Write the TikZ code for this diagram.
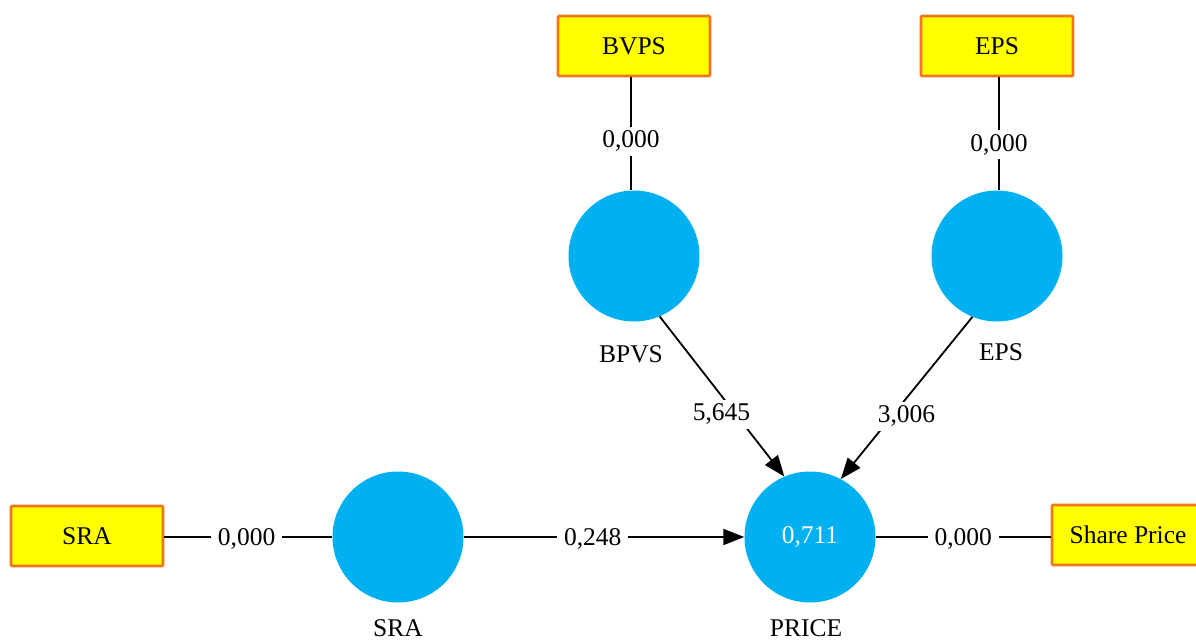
\documentclass[tikz,border=0pt]{standalone}
\usepackage{fontspec}
\setmainfont{Liberation Serif}
\usetikzlibrary{arrows.meta}
\definecolor{boxfill}{RGB}{255,255,0}
\definecolor{boxdraw}{RGB}{237,118,30}
\definecolor{latent}{RGB}{0,176,240}
\tikzset{
  every node/.style={font=\fontsize{25.5}{30}\selectfont},
  indicator/.style={draw=boxdraw, line width=2.6pt, fill=boxfill, rounded corners=1pt,
    minimum width=152pt, minimum height=60pt, inner sep=0pt},
  construct/.style={circle, fill=latent, minimum size=131pt, inner sep=0pt},
  edgelbl/.style={fill=white, inner xsep=7pt, inner ysep=4pt, yshift=-2pt},
  conn/.style={line width=1.8pt, black},
  arr/.style={conn, -{Triangle[length=21pt,width=16pt]}},
}
\begin{document}
\begin{tikzpicture}[x=1pt,y=-1pt]
\useasboundingbox (0,0) rectangle (1196,640);
\clip (0,0) rectangle (1196,640);
% indicators
\node[indicator] (bvpsbox) at (634,46) {BVPS};
\node[indicator] (epsbox) at (997,46) {EPS};
\node[indicator] (srabox) at (87,536) {SRA};
\node[indicator] (spbox) at (1128,535) {Share Price};
% constructs
\node[construct] (bpvs) at (634,256) {};
\node[construct] (eps) at (997,256) {};
\node[construct] (sra) at (398,537) {};
\node[construct, text=white] (price) at (810,537) {0,711};
% construct names
\node (bpvslbl) at (631,354) {BPVS};
\node (epslbl) at (1001,352) {EPS};
\node (sralbl) at (398,628) {SRA};
\node (pricelbl) at (806,628) {PRICE};
% connectors
\draw[conn] (bvpsbox.south -| 631,0) -- node[edgelbl, pos=0.55] {0,000} (bpvs.north -| 631,0);
\draw[conn] (epsbox.south -| 999,0) -- node[edgelbl, pos=0.58] {0,000} (eps.north -| 999,0);
\draw[conn] (srabox.east |- sra) -- node[edgelbl, pos=0.49] {0,000} (sra);
\draw[arr] (sra) -- node[edgelbl, pos=0.46] {0,248} (price);
\draw[arr] (bpvs.-67) -- node[edgelbl, pos=0.6, xshift=-13pt] {5,645} (price.113);
\draw[arr] (eps.-112) -- node[edgelbl, pos=0.6, xshift=13pt] {3,006} (price.62);
\draw[conn] (price) -- node[edgelbl, pos=0.5] {0,000} (spbox.west |- price);
\end{tikzpicture}
\end{document}
